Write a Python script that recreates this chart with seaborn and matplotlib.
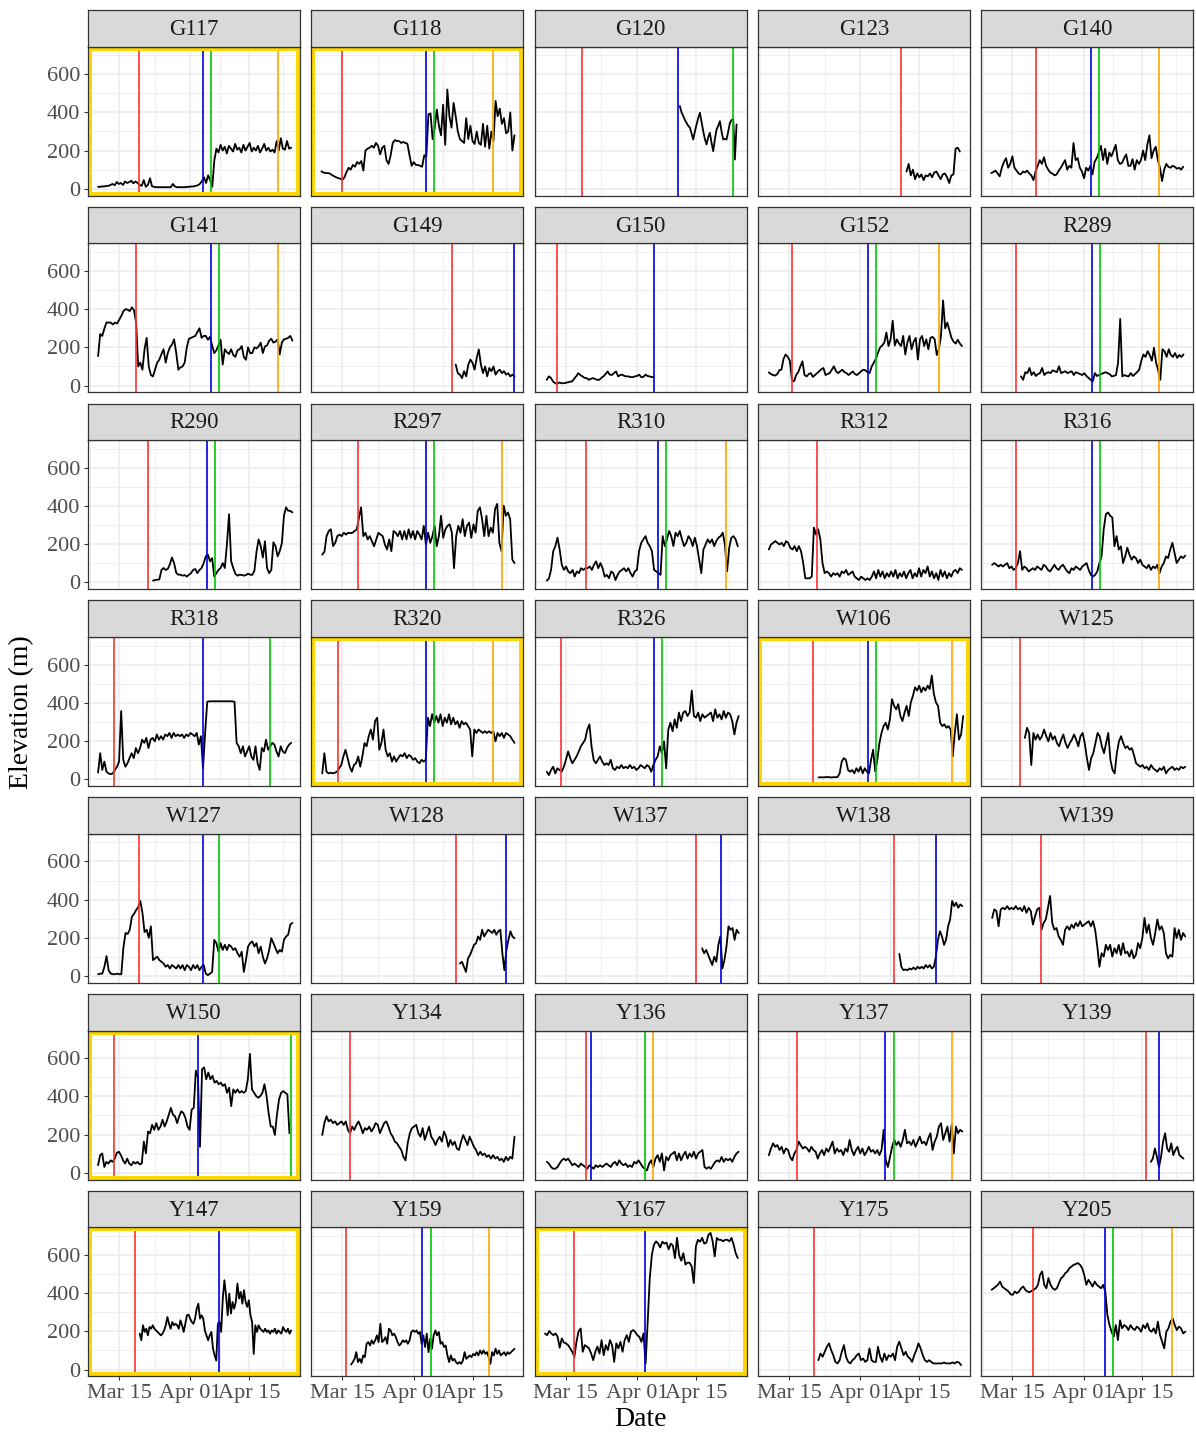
import matplotlib
matplotlib.use("Agg")
import numpy as np
import pandas as pd
import matplotlib.pyplot as plt
import matplotlib.dates as mdates
from matplotlib.patches import Rectangle
import seaborn as sns

YEAR = "2019"

sites = ["G117", "G118", "G120", "G123", "G140",
         "G141", "G149", "G150", "G152", "R289",
         "R290", "R297", "R310", "R312", "R316",
         "R318", "R320", "R326", "W106", "W125",
         "W127", "W128", "W137", "W138", "W139",
         "W150", "Y134", "Y136", "Y137", "Y139",
         "Y147", "Y159", "Y167", "Y175", "Y205"]

# Elevation (m) of each collar fix, evenly spaced between the first and last fix
elev_G117 = [10, 10, 12, 12, 15, 15, 20, 25, 18, 35, 25, 30, 20, 38, 30, 35, 42, 28, 38, 30,
             20, 15, 45, 10, 20, 55, 12, 10, 8, 8, 8, 8, 8, 8, 8, 8, 25, 12, 8, 8,
             8, 8, 8, 10, 10, 12, 12, 15, 18, 25, 40, 60, 30, 70, 45, 10, 150, 210, 190, 230,
             200, 220, 185, 225, 210, 195, 235, 205, 215, 190, 230, 200, 220, 240, 195, 215, 200, 225, 190, 210,
             235, 200, 215, 195, 205, 190, 250, 200, 265, 210, 205, 250, 210, 215]
elev_G118 = [91, 85, 82, 82, 80, 72, 66, 60, 56, 52, 47, 60, 88, 110, 100, 125, 115, 140, 130, 145,
             95, 200, 210, 215, 225, 215, 240, 225, 180, 215, 225, 150, 130, 175, 240, 255, 250, 250, 240, 245,
             240, 235, 175, 120, 140, 125, 125, 120, 115, 175, 170, 390, 395, 260, 320, 415, 330, 280, 440, 230,
             520, 380, 320, 450, 380, 300, 260, 250, 240, 370, 260, 330, 250, 235, 300, 240, 230, 340, 220, 330,
             210, 300, 250, 460, 380, 420, 340, 370, 290, 300, 400, 200, 280]
elev_G120 = [433, 400, 381, 360, 345, 330, 320, 290, 258, 300, 337, 370, 398, 350, 302, 260, 232, 270, 293, 240,
             197, 260, 310, 330, 354, 300, 258, 262, 258, 300, 345, 360, 365, 153, 337]
elev_G123 = [90, 130, 70, 100, 50, 80, 60, 75, 45, 70, 65, 80, 60, 85, 90, 70, 50, 75, 80, 60,
             30, 70, 75, 210, 215, 195]
elev_G140 = [82, 88, 95, 80, 65, 110, 140, 160, 110, 130, 170, 110, 95, 80, 75, 90, 85, 95, 80, 70,
             45, 90, 120, 150, 130, 165, 120, 100, 85, 80, 70, 75, 95, 110, 130, 150, 100, 120, 110, 240,
             150, 160, 110, 90, 55, 110, 95, 120, 75, 140, 160, 190, 225, 150, 210, 130, 190, 170, 200, 230,
             150, 130, 135, 160, 180, 120, 120, 155, 100, 150, 130, 150, 200, 150, 230, 280, 160, 200, 220, 150,
             110, 40, 100, 130, 115, 110, 120, 115, 105, 110, 100, 115]
elev_G141 = [154, 270, 260, 300, 331, 330, 330, 320, 330, 325, 345, 365, 390, 400, 398, 390, 410, 395, 330, 100,
             120, 83, 190, 250, 100, 55, 48, 85, 120, 136, 165, 190, 120, 170, 200, 215, 242, 170, 83, 95,
             100, 120, 200, 245, 250, 255, 260, 280, 300, 250, 260, 260, 240, 255, 210, 170, 185, 210, 240, 110,
             190, 175, 165, 190, 160, 150, 185, 190, 207, 150, 135, 200, 170, 170, 200, 195, 205, 225, 170, 205,
             210, 235, 245, 225, 230, 242, 163, 225, 242, 245, 250, 260, 235]
elev_G149 = [110, 65, 57, 39, 75, 48, 110, 136, 119, 83, 145, 189, 110, 65, 100, 48, 92, 75, 100, 57,
             75, 83, 65, 75, 57, 65, 48, 57, 48]
elev_G150 = [30, 48, 40, 21, 12, 9, 16, 12, 12, 14, 17, 20, 21, 35, 48, 65, 55, 48, 40, 39,
             30, 35, 39, 34, 30, 30, 40, 48, 60, 74, 57, 55, 65, 74, 48, 55, 57, 50, 48, 48,
             44, 44, 48, 50, 57, 44, 45, 57, 50, 48, 44, 44]
elev_G152 = [69, 60, 55, 52, 60, 80, 83, 140, 163, 150, 130, 30, 22, 55, 70, 100, 127, 55, 48, 60,
             65, 45, 55, 65, 75, 85, 92, 55, 60, 65, 83, 101, 75, 65, 74, 83, 70, 65, 55, 65,
             74, 60, 55, 65, 75, 83, 80, 70, 65, 100, 120, 140, 172, 200, 210, 225, 278, 207, 242, 340,
             210, 242, 220, 207, 260, 163, 225, 260, 190, 230, 250, 136, 242, 260, 207, 242, 190, 250, 255, 242,
             160, 190, 260, 446, 300, 330, 290, 250, 230, 220, 240, 220, 207]
elev_R289 = [48, 30, 70, 65, 92, 55, 70, 50, 60, 65, 92, 55, 65, 70, 65, 80, 75, 70, 101, 65,
             70, 75, 65, 70, 75, 55, 70, 65, 60, 55, 65, 50, 40, 30, 22, 65, 50, 55, 60, 65,
             70, 65, 60, 48, 50, 55, 120, 349, 48, 55, 50, 48, 65, 50, 60, 70, 83, 130, 163, 150,
             180, 160, 130, 198, 120, 80, 30, 190, 180, 150, 190, 160, 150, 170, 145, 160, 150, 163]
elev_R290 = [9, 12, 14, 15, 65, 75, 65, 70, 95, 130, 100, 50, 40, 40, 35, 38, 30, 40, 48, 65,
             70, 48, 65, 75, 101, 136, 145, 110, 127, 30, 48, 65, 75, 101, 75, 200, 357, 110, 75, 45,
             35, 40, 39, 35, 38, 45, 40, 39, 60, 160, 225, 190, 130, 215, 75, 48, 65, 210, 190, 136,
             163, 205, 349, 393, 375, 375, 366]
elev_R297 = [145, 160, 242, 269, 278, 190, 207, 242, 250, 242, 260, 250, 260, 258, 260, 269, 278, 340, 393, 242,
             260, 225, 242, 215, 189, 225, 260, 250, 242, 198, 172, 225, 163, 269, 260, 242, 269, 225, 269, 225,
             278, 233, 269, 225, 269, 250, 225, 296, 198, 260, 207, 242, 296, 189, 242, 349, 233, 278, 296, 304,
             260, 74, 242, 296, 260, 331, 242, 296, 313, 233, 304, 260, 375, 393, 331, 242, 349, 242, 287, 260,
             384, 411, 207, 163, 402, 349, 366, 331, 119, 101]
elev_R310 = [9, 20, 65, 163, 190, 234, 172, 92, 65, 83, 57, 48, 65, 30, 57, 48, 74, 65, 74, 74,
             83, 65, 92, 110, 74, 101, 74, 30, 39, 22, 57, 48, 12, 39, 57, 65, 74, 57, 74, 48,
             30, 57, 65, 163, 207, 225, 242, 207, 190, 163, 65, 57, 48, 39, 242, 190, 225, 269, 242, 190,
             260, 242, 269, 225, 190, 207, 242, 225, 190, 234, 190, 119, 48, 172, 198, 225, 207, 225, 190, 216,
             234, 242, 260, 198, 57, 181, 234, 242, 225, 189]
elev_R312 = [172, 198, 207, 216, 207, 198, 207, 190, 216, 207, 181, 172, 190, 163, 190, 163, 101, 21, 21, 21,
             30, 287, 250, 278, 225, 101, 48, 57, 48, 30, 48, 39, 48, 30, 57, 48, 65, 39, 48, 57,
             30, 21, 12, 30, 21, 12, 21, 12, 30, 57, 21, 65, 30, 57, 21, 48, 30, 57, 30, 65,
             21, 48, 30, 57, 21, 48, 65, 21, 48, 30, 74, 30, 65, 48, 83, 30, 57, 21, 48, 12,
             65, 30, 57, 21, 48, 30, 57, 65, 48, 74, 65]
elev_R316 = [92, 101, 92, 83, 92, 83, 92, 101, 74, 83, 65, 74, 101, 163, 65, 83, 74, 57, 65, 74,
             65, 83, 74, 65, 92, 83, 65, 57, 74, 92, 74, 65, 83, 92, 74, 57, 48, 74, 65, 83,
             74, 65, 83, 92, 101, 65, 39, 30, 39, 57, 101, 136, 278, 357, 366, 349, 340, 189, 242, 172,
             189, 101, 136, 181, 145, 119, 136, 127, 101, 119, 92, 83, 74, 92, 65, 83, 74, 92, 48, 83,
             101, 136, 127, 172, 207, 154, 101, 119, 136, 127, 140]
elev_R318 = [34, 136, 48, 92, 39, 30, 26, 30, 48, 65, 92, 357, 101, 65, 83, 110, 136, 110, 163, 136,
             163, 207, 190, 216, 163, 207, 216, 198, 234, 207, 225, 207, 234, 225, 242, 216, 242, 225, 234, 225,
             234, 216, 234, 225, 242, 234, 225, 242, 181, 225, 57, 242, 405, 408, 408, 408, 408, 408, 408, 408,
             408, 408, 408, 408, 408, 405, 190, 172, 136, 172, 119, 145, 172, 119, 101, 172, 83, 48, 163, 145,
             207, 154, 172, 190, 181, 145, 119, 172, 145, 136, 163, 181, 190]
elev_R320 = [30, 136, 39, 30, 34, 30, 34, 39, 57, 74, 119, 154, 110, 65, 39, 74, 83, 119, 65, 119,
             189, 172, 225, 260, 207, 304, 322, 154, 189, 260, 154, 119, 136, 92, 119, 92, 110, 127, 119, 136,
             110, 127, 119, 101, 110, 92, 83, 101, 92, 101, 322, 278, 340, 296, 331, 296, 340, 278, 322, 296,
             340, 287, 322, 287, 304, 269, 304, 287, 296, 278, 260, 119, 260, 242, 260, 251, 242, 251, 242, 251,
             242, 251, 198, 242, 225, 242, 216, 242, 234, 225, 207, 190]
elev_R326 = [39, 21, 48, 65, 30, 57, 48, 39, 65, 101, 145, 110, 83, 101, 119, 145, 172, 189, 207, 260,
             287, 172, 101, 83, 101, 119, 92, 74, 83, 74, 101, 57, 48, 65, 57, 74, 57, 65, 57, 74,
             57, 65, 48, 57, 74, 65, 57, 74, 65, 39, 74, 101, 119, 172, 136, 198, 57, 260, 296, 251,
             313, 269, 349, 304, 349, 357, 331, 349, 464, 331, 322, 349, 304, 340, 322, 331, 340, 349, 304, 366,
             322, 340, 313, 357, 322, 349, 340, 304, 234, 296, 331]
elev_W106 = [9, 10, 9, 10, 11, 10, 9, 10, 10, 11, 30, 92, 110, 101, 48, 39, 48, 30, 57, 39,
             65, 30, 57, 39, 30, 101, 154, 39, 101, 189, 242, 278, 296, 260, 313, 419, 384, 366, 393, 331,
             304, 349, 384, 331, 402, 437, 481, 464, 490, 455, 481, 464, 490, 472, 543, 446, 402, 384, 296, 278,
             287, 269, 278, 260, 119, 242, 340, 207, 234, 331]
elev_W125 = [216, 269, 242, 74, 242, 207, 234, 207, 225, 260, 225, 198, 242, 207, 225, 189, 172, 207, 234, 189,
             163, 189, 207, 234, 207, 172, 225, 242, 189, 110, 48, 110, 136, 189, 242, 225, 172, 136, 189, 242,
             101, 48, 30, 136, 198, 225, 189, 163, 172, 154, 163, 127, 83, 74, 65, 74, 57, 65, 48, 74,
             57, 48, 39, 57, 48, 65, 30, 48, 57, 65, 48, 57, 48, 65, 57, 65]
elev_W127 = [9, 12, 12, 48, 104, 30, 12, 9, 9, 12, 9, 9, 150, 225, 220, 242, 310, 325, 345, 360,
             393, 331, 230, 242, 200, 260, 83, 92, 101, 83, 74, 65, 48, 57, 39, 57, 48, 39, 57, 39,
             57, 30, 57, 48, 30, 57, 39, 57, 30, 48, 57, 12, 4, 12, 21, 189, 172, 127, 172, 136,
             163, 136, 163, 154, 136, 145, 119, 101, 127, 21, 83, 154, 172, 181, 154, 172, 119, 154, 101, 65,
             92, 136, 198, 172, 145, 119, 136, 127, 189, 207, 216, 269, 278]
elev_W128 = [65, 74, 48, 21, 92, 110, 136, 163, 172, 207, 189, 242, 207, 225, 242, 234, 225, 242, 216, 234,
             242, 119, 30, 136, 189, 234, 207, 198]
elev_W137 = [145, 119, 136, 110, 83, 57, 101, 74, 163, 207, 39, 83, 154, 260, 242, 251, 189, 242, 225]
elev_W138 = [115, 48, 30, 34, 30, 39, 34, 44, 34, 48, 39, 48, 39, 57, 44, 57, 39, 48, 101, 189,
             234, 207, 163, 189, 260, 296, 393, 366, 384, 357, 375, 366]
elev_W139 = [304, 349, 340, 260, 349, 357, 349, 366, 349, 357, 349, 366, 349, 357, 340, 366, 331, 357, 340, 269,
             313, 349, 357, 242, 278, 296, 357, 419, 278, 242, 251, 207, 189, 163, 242, 260, 242, 269, 251, 278,
             260, 287, 260, 269, 278, 287, 260, 287, 242, 154, 48, 119, 101, 163, 136, 163, 101, 145, 119, 163,
             110, 172, 119, 127, 101, 136, 92, 110, 172, 145, 198, 304, 225, 269, 198, 163, 225, 296, 242, 260,
             225, 119, 92, 110, 101, 251, 198, 242, 189, 225, 207]
elev_W150 = [39, 92, 101, 30, 57, 48, 65, 57, 74, 104, 110, 92, 65, 48, 74, 48, 39, 57, 48, 57,
             44, 48, 163, 101, 216, 207, 251, 225, 260, 225, 242, 278, 242, 269, 304, 340, 304, 296, 260, 296,
             322, 313, 287, 242, 225, 331, 340, 535, 499, 136, 543, 552, 490, 525, 490, 508, 472, 481, 464, 472,
             455, 464, 419, 446, 349, 437, 419, 437, 419, 428, 419, 428, 490, 623, 437, 419, 402, 393, 402, 419,
             464, 402, 313, 242, 242, 198, 304, 384, 419, 428, 419, 411, 207]
elev_Y134 = [198, 260, 296, 269, 278, 260, 269, 251, 260, 269, 251, 269, 225, 207, 242, 225, 251, 269, 242, 207,
             234, 225, 242, 216, 234, 260, 251, 207, 234, 260, 269, 242, 207, 189, 163, 154, 136, 119, 83, 65,
             154, 207, 234, 242, 251, 207, 189, 234, 172, 207, 242, 189, 172, 145, 172, 189, 163, 216, 189, 136,
             172, 145, 163, 127, 119, 163, 198, 172, 145, 189, 163, 136, 119, 92, 110, 92, 101, 83, 92, 74,
             92, 74, 83, 65, 74, 57, 83, 65, 83, 74, 189]
elev_Y136 = [57, 48, 30, 21, 21, 30, 48, 65, 74, 65, 74, 57, 39, 48, 39, 30, 48, 39, 30, 21,
             39, 30, 21, 39, 30, 39, 30, 39, 48, 39, 30, 48, 57, 39, 65, 48, 39, 48, 30, 39,
             30, 57, 48, 65, 48, 30, 21, 12, 48, 65, 30, 74, 92, 57, 101, 12, 83, 65, 92, 101,
             110, 65, 101, 65, 92, 110, 74, 101, 83, 110, 74, 101, 110, 119, 30, 21, 30, 21, 39, 57,
             65, 57, 83, 57, 74, 65, 74, 57, 83, 101, 110]
elev_Y137 = [92, 127, 154, 136, 145, 119, 136, 101, 127, 119, 83, 65, 101, 119, 163, 145, 127, 136, 127, 110,
             136, 119, 110, 74, 101, 119, 92, 127, 110, 136, 163, 101, 127, 110, 119, 92, 127, 110, 172, 119,
             92, 119, 136, 101, 127, 92, 110, 136, 110, 119, 101, 119, 92, 119, 225, 65, 30, 83, 136, 172,
             145, 163, 136, 172, 225, 154, 163, 145, 172, 136, 163, 189, 154, 163, 145, 181, 207, 119, 163, 189,
             242, 260, 172, 207, 242, 163, 251, 101, 242, 207, 225, 216]
elev_Y139 = [57, 74, 127, 83, 30, 83, 163, 207, 127, 110, 154, 92, 119, 136, 92, 83, 74]
elev_Y147 = [188, 153, 232, 197, 214, 179, 223, 214, 232, 214, 205, 197, 188, 179, 188, 205, 232, 275, 240, 214,
             249, 232, 240, 232, 214, 258, 232, 197, 240, 284, 288, 267, 249, 240, 267, 319, 345, 267, 284, 267,
             205, 179, 153, 179, 197, 109, 74, 47, 240, 249, 197, 372, 468, 389, 284, 398, 293, 354, 319, 354,
             451, 372, 407, 345, 416, 354, 328, 363, 284, 249, 82, 232, 197, 232, 214, 205, 197, 214, 197, 205,
             188, 205, 197, 214, 188, 205, 197, 188, 223, 205, 197, 214, 188, 205]
elev_Y159 = [26, 39, 56, 91, 39, 56, 35, 74, 65, 135, 144, 126, 153, 135, 153, 179, 144, 240, 144, 153,
             170, 135, 214, 205, 179, 188, 170, 144, 126, 135, 153, 144, 153, 135, 153, 197, 205, 197, 205, 188,
             197, 135, 179, 118, 188, 91, 161, 109, 179, 205, 179, 197, 135, 144, 118, 126, 74, 39, 74, 47,
             56, 39, 30, 39, 30, 47, 91, 56, 65, 74, 65, 82, 74, 91, 74, 100, 82, 100, 82, 91,
             65, 30, 91, 74, 109, 82, 100, 74, 82, 91, 74, 91, 82, 91, 100, 109]
elev_Y167 = [189, 180, 202, 189, 180, 189, 172, 114, 163, 142, 137, 128, 111, 93, 67, 145, 200, 215, 93, 128,
             120, 111, 84, 49, 93, 120, 84, 154, 75, 128, 102, 154, 128, 40, 137, 111, 145, 93, 154, 180,
             145, 198, 207, 198, 180, 172, 145, 189, 32, 250, 480, 602, 654, 672, 660, 640, 670, 660, 665, 630,
             660, 650, 584, 690, 600, 570, 610, 550, 560, 560, 540, 453, 645, 680, 670, 690, 660, 665, 706, 716,
             672, 593, 690, 680, 680, 672, 680, 680, 672, 690, 655, 610, 584]
elev_Y175 = [49, 84, 67, 93, 119, 137, 102, 75, 40, 32, 49, 93, 128, 67, 40, 32, 49, 58, 75, 84,
             49, 58, 40, 49, 111, 49, 40, 40, 119, 67, 40, 84, 49, 75, 67, 84, 49, 119, 146, 111,
             75, 93, 67, 58, 40, 75, 102, 137, 111, 75, 49, 40, 49, 40, 32, 32, 32, 32, 32, 37,
             32, 32, 32, 37, 32, 40, 37, 23]
elev_Y205 = [418, 426, 435, 444, 461, 435, 426, 418, 409, 395, 391, 409, 400, 409, 426, 435, 418, 409, 405, 412,
             418, 426, 444, 496, 514, 444, 426, 479, 444, 426, 418, 426, 453, 479, 488, 505, 514, 532, 540, 549,
             553, 558, 549, 532, 496, 444, 470, 453, 435, 461, 444, 435, 426, 444, 409, 286, 233, 198, 172, 233,
             154, 258, 216, 233, 225, 207, 233, 216, 207, 225, 216, 198, 233, 216, 242, 207, 198, 216, 189, 251,
             181, 146, 111, 198, 216, 251, 268, 233, 207, 225, 216, 189, 198]

elevation = {
    "G117": elev_G117, "G118": elev_G118, "G120": elev_G120, "G123": elev_G123, "G140": elev_G140,
    "G141": elev_G141, "G149": elev_G149, "G150": elev_G150, "G152": elev_G152, "R289": elev_R289,
    "R290": elev_R290, "R297": elev_R297, "R310": elev_R310, "R312": elev_R312, "R316": elev_R316,
    "R318": elev_R318, "R320": elev_R320, "R326": elev_R326, "W106": elev_W106, "W125": elev_W125,
    "W127": elev_W127, "W128": elev_W128, "W137": elev_W137, "W138": elev_W138, "W139": elev_W139,
    "W150": elev_W150, "Y134": elev_Y134, "Y136": elev_Y136, "Y137": elev_Y137, "Y139": elev_Y139,
    "Y147": elev_Y147, "Y159": elev_Y159, "Y167": elev_Y167, "Y175": elev_Y175, "Y205": elev_Y205,
}

# first and last fix of every collar (month-day hour)
fix_span = {
    "G117": ("03-10 00:00", "04-25 00:00"), "G118": ("03-10 00:00", "04-25 00:00"),
    "G120": ("04-11 05:00", "04-24 17:00"), "G123": ("04-12 00:00", "04-24 17:00"),
    "G140": ("03-10 00:00", "04-24 17:00"), "G141": ("03-10 00:00", "04-25 07:00"),
    "G149": ("04-11 00:00", "04-25 00:00"), "G150": ("03-10 12:00", "04-05 00:00"),
    "G152": ("03-10 05:00", "04-25 05:00"), "R289": ("03-17 02:00", "04-24 19:00"),
    "R290": ("03-23 02:00", "04-25 07:00"), "R297": ("03-10 05:00", "04-25 00:00"),
    "R310": ("03-10 12:00", "04-25 00:00"), "R312": ("03-10 05:00", "04-25 05:00"),
    "R316": ("03-10 05:00", "04-25 05:00"), "R318": ("03-10 00:00", "04-25 00:00"),
    "R320": ("03-10 05:00", "04-25 00:00"), "R326": ("03-10 12:00", "04-25 05:00"),
    "W106": ("03-22 02:00", "04-25 12:00"), "W125": ("03-18 00:00", "04-25 05:00"),
    "W127": ("03-10 00:00", "04-25 07:00"), "W128": ("04-12 00:00", "04-25 00:00"),
    "W137": ("04-16 12:00", "04-25 05:00"), "W138": ("04-10 07:00", "04-25 07:00"),
    "W139": ("03-10 05:00", "04-25 05:00"), "W150": ("03-10 00:00", "04-24 14:00"),
    "Y134": ("03-10 05:00", "04-25 00:00"), "Y136": ("03-10 12:00", "04-25 05:00"),
    "Y137": ("03-10 05:00", "04-25 07:00"), "Y139": ("04-17 00:00", "04-24 19:00"),
    "Y147": ("03-19 22:00", "04-25 00:00"), "Y159": ("03-17 02:00", "04-25 00:00"),
    "Y167": ("03-10 02:00", "04-25 00:00"), "Y175": ("03-22 00:00", "04-25 00:00"),
    "Y205": ("03-10 02:00", "04-25 05:00"),
}

red_event = {
    "G117": "03-19 19:00", "G118": "03-14 22:00", "G120": "03-18 19:00", "G123": "04-10 19:00",
    "G140": "03-20 17:00", "G141": "03-18 22:00", "G149": "04-10 00:00", "G150": "03-13 00:00",
    "G152": "03-15 19:00", "R289": "03-15 19:00", "R290": "03-21 22:00", "R297": "03-18 19:00",
    "R310": "03-19 22:00", "R312": "03-21 19:00", "R316": "03-15 19:00", "R318": "03-13 19:00",
    "R320": "03-14 00:00", "R326": "03-14 00:00", "W106": "03-20 19:00", "W125": "03-16 22:00",
    "W127": "03-19 19:00", "W128": "04-11 00:00", "W137": "04-15 00:00", "W138": "04-09 00:00",
    "W139": "03-21 22:00", "W150": "03-13 19:00", "Y134": "03-16 22:00", "Y136": "03-19 22:00",
    "Y137": "03-16 22:00", "Y139": "04-15 22:00", "Y147": "03-18 19:00", "Y159": "03-15 22:00",
    "Y167": "03-16 22:00", "Y175": "03-20 22:00", "Y205": "03-20 00:00",
}
blue_event = {
    "G117": "04-04 00:00", "G118": "04-04 00:00", "G120": "04-10 19:00", "G140": "04-02 19:00",
    "G141": "04-05 22:00", "G149": "04-25 00:00", "G150": "04-05 00:00", "G152": "04-02 22:00",
    "R289": "04-02 22:00", "R290": "04-05 00:00", "R297": "04-03 22:00", "R310": "04-06 00:00",
    "R316": "04-02 22:00", "R318": "04-04 00:00", "R320": "04-04 00:00", "R326": "04-05 00:00",
    "W106": "04-02 22:00", "W127": "04-04 00:00", "W128": "04-23 00:00", "W137": "04-21 00:00",
    "W138": "04-19 00:00", "W150": "04-02 22:00", "Y136": "03-20 22:00", "Y137": "04-06 22:00",
    "Y139": "04-19 00:00", "Y147": "04-07 22:00", "Y159": "04-02 22:00", "Y167": "04-02 22:00",
    "Y205": "04-06 00:00",
}
green_event = {
    "G117": "04-05 22:00", "G118": "04-05 22:00", "G120": "04-23 22:00", "G140": "04-04 17:00",
    "G141": "04-07 22:00", "G152": "04-04 19:00", "R289": "04-04 19:00", "R290": "04-06 22:00",
    "R297": "04-05 22:00", "R310": "04-08 00:00", "R316": "04-04 19:00", "R318": "04-20 00:00",
    "R320": "04-05 22:00", "R326": "04-07 00:00", "W106": "04-04 19:00", "W127": "04-07 22:00",
    "W150": "04-25 00:00", "Y136": "04-02 22:00", "Y137": "04-08 22:00", "Y159": "04-05 00:00",
    "Y205": "04-08 00:00",
}
orange_event = {
    "G117": "04-21 22:00", "G118": "04-19 22:00", "G140": "04-18 22:00", "G141": "04-21 22:00",
    "G152": "04-19 19:00", "R289": "04-19 00:00", "R297": "04-22 00:00", "R310": "04-22 07:00",
    "R316": "04-19 00:00", "R320": "04-19 22:00", "W106": "04-22 22:00", "Y136": "04-04 22:00",
    "Y137": "04-22 22:00", "Y159": "04-19 00:00", "Y205": "04-22 00:00",
}

highlighted = ["G117", "G118", "R320", "W106", "W150", "Y147", "Y167"]

y_major = [0, 200, 400, 600]
y_minor = [100, 300, 500, 700]
date_major = ["03-15", "04-01", "04-15"]
date_minor = ["03-08", "03-23 12:00", "04-08", "04-23"]


def stamp(md):
    return pd.Timestamp(f"{YEAR}-{md}")


# long table of all fixes
frames = []
for s in sites:
    t0, t1 = fix_span[s]
    vals = elevation[s]
    times = pd.date_range(stamp(t0), stamp(t1), periods=len(vals))
    frames.append(pd.DataFrame({"site": s, "time": times, "elevation": vals}))
tracks = pd.concat(frames, ignore_index=True)

sns.set_theme(style="white")
plt.rcParams["font.family"] = ["Liberation Serif", "DejaVu Serif"]

W, H = 1196, 1434
fig = plt.figure(figsize=(W / 100, H / 100), dpi=100)
fig.patch.set_facecolor("white")

COL_X = [88, 311.3, 534.6, 757.9, 981.2]
PANEL_W = 212
ROW_Y0 = 10
ROW_STEP = 196.8
STRIP_H = 36.5
PANEL_H = 149
BORDER = "#333333"
GRID = "#EBEBEB"


def fig_box(x, y, w, h):
    return [x / W, 1 - (y + h) / H, w / W, h / H]


ref = stamp("03-15")
x_lo = ref - pd.Timedelta(days=7.4)
x_hi = ref + pd.Timedelta(days=43.1)

event_styles = [(red_event, "#FF3030"), (blue_event, "#0000DD"),
                (green_event, "#00C800"), (orange_event, "#FFA500")]

for i, s in enumerate(sites):
    r, c = divmod(i, 5)
    x = COL_X[c]
    y_strip = ROW_Y0 + r * ROW_STEP
    y_panel = y_strip + STRIP_H

    ax = fig.add_axes(fig_box(x, y_panel, PANEL_W, PANEL_H))
    ax.set_facecolor("white")
    sub = tracks[tracks["site"] == s]
    sns.lineplot(data=sub, x="time", y="elevation", ax=ax, color="black",
                 linewidth=1.3, estimator=None, legend=False, zorder=3)

    for events, colour in event_styles:
        if s in events:
            ax.axvline(stamp(events[s]), color=colour, linewidth=1.2, zorder=4)

    ax.set_xlim(x_lo, x_hi)
    ax.set_ylim(-35.5, 745.5)
    ax.set_xticks([stamp(d) for d in date_major])
    ax.set_xticks([stamp(d) for d in date_minor], minor=True)
    ax.set_yticks(y_major)
    ax.set_yticks(y_minor, minor=True)
    ax.xaxis.set_major_formatter(mdates.DateFormatter("%b %d"))
    ax.set_axisbelow(True)
    ax.grid(which="major", color=GRID, linewidth=1.1)
    ax.grid(which="minor", color=GRID, linewidth=0.55)
    ax.set_xlabel("")
    ax.set_ylabel("")

    ax.tick_params(which="major", length=3, width=0.8, color=BORDER,
                   labelcolor="#4D4D4D", labelsize=16, pad=2.5)
    ax.tick_params(which="minor", length=0)
    ax.tick_params(axis="x", which="major", bottom=(r == 6), labelbottom=(r == 6))
    ax.tick_params(axis="y", which="major", left=(c == 0), labelleft=(c == 0))

    if s in highlighted:
        ax.add_patch(Rectangle((0, 0), 1, 1, transform=ax.transAxes, fill=False,
                               edgecolor="#FFD700", linewidth=5.8, zorder=5))

    for sp in ax.spines.values():
        sp.set_visible(True)
        sp.set_color(BORDER)
        sp.set_linewidth(0.9)
        sp.set_zorder(6)

    sax = fig.add_axes(fig_box(x, y_strip, PANEL_W, STRIP_H))
    sax.set_facecolor("#D9D9D9")
    sax.set_xticks([])
    sax.set_yticks([])
    for sp in sax.spines.values():
        sp.set_visible(True)
        sp.set_color(BORDER)
        sp.set_linewidth(0.9)
    sax.text(0.5, 0.47, s, transform=sax.transAxes, ha="center", va="center",
             fontsize=16.5, color="#1A1A1A")

fig.text(22 / W, 1 - 712 / H, "Elevation (m)", rotation=90, ha="center",
         va="center", fontsize=20, color="black")
fig.text(640 / W, 1 - 1420 / H, "Date", ha="center", va="center",
         fontsize=20, color="black")

fig.savefig("out.png", dpi=100)
